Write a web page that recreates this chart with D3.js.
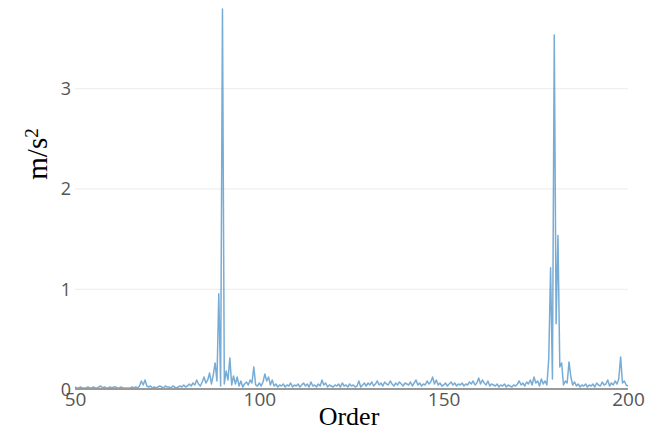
<!doctype html>
<html lang="en">
<head>
<meta charset="UTF-8">
<title>Order spectrum</title>
<style>
  body { margin: 0; background: #fff; }
  svg { display: block; }
</style>
</head>
<body>
<script src="https://cdn.jsdelivr.net/npm/d3@7"></script>
<script>
// orders from 50 to 200 in half-order steps
var orderStart = 50, orderStep = 0.5;

// acceleration amplitude (m/s^2), one row = 10 orders
var accel = [
  0.02,0.01,0.01,0.02,0.01,0.01,0.01,0.02,0.01,0.01, 0.02,0.01,0.01,0.02,0.03,0.01,0.02,0.01,0.01,0.02, // 50
  0.01,0.02,0.02,0.01,0.01,0.02,0.01,0.01,0.01,0.01, 0.01,0.02,0.01,0.02,0.01,0.03,0.08,0.04,0.09,0.03, // 60
  0.02,0.03,0.01,0.02,0.01,0.02,0.03,0.02,0.01,0.03, 0.02,0.02,0.01,0.03,0.02,0.01,0.02,0.03,0.02,0.04, // 70
  0.02,0.03,0.05,0.03,0.06,0.04,0.09,0.05,0.03,0.07, 0.12,0.06,0.09,0.16,0.05,0.14,0.26,0.08,0.95,0.03, // 80
  3.79,0.05,0.18,0.09,0.31,0.04,0.13,0.05,0.12,0.03, 0.08,0.02,0.05,0.07,0.04,0.09,0.06,0.22,0.04,0.03, // 90
  0.06,0.03,0.07,0.15,0.08,0.12,0.04,0.09,0.03,0.05, 0.02,0.04,0.03,0.05,0.02,0.04,0.03,0.06,0.02,0.04, // 100
  0.03,0.05,0.02,0.04,0.06,0.03,0.05,0.02,0.07,0.03, 0.04,0.02,0.05,0.03,0.09,0.04,0.06,0.02,0.04,0.03, // 110
  0.02,0.04,0.03,0.05,0.02,0.06,0.03,0.04,0.02,0.05, 0.03,0.04,0.02,0.03,0.08,0.02,0.04,0.06,0.03,0.06, // 120
  0.04,0.07,0.03,0.05,0.08,0.04,0.06,0.03,0.07,0.05, 0.04,0.08,0.05,0.03,0.06,0.04,0.07,0.05,0.03,0.06, // 130
  0.05,0.04,0.07,0.03,0.06,0.09,0.04,0.06,0.03,0.05, 0.04,0.08,0.05,0.07,0.12,0.05,0.09,0.04,0.06,0.03, // 140
  0.04,0.06,0.03,0.05,0.07,0.04,0.06,0.03,0.05,0.04, 0.06,0.03,0.05,0.04,0.07,0.05,0.08,0.04,0.06,0.11, // 150
  0.05,0.09,0.06,0.04,0.08,0.03,0.05,0.04,0.03,0.05, 0.02,0.04,0.03,0.05,0.02,0.04,0.03,0.02,0.04,0.03, // 160
  0.05,0.08,0.04,0.06,0.03,0.07,0.05,0.09,0.04,0.12, 0.06,0.08,0.03,0.10,0.05,0.08,0.04,0.30,1.21,0.10, // 170
  3.53,0.65,1.53,0.22,0.26,0.04,0.08,0.06,0.27,0.12, 0.04,0.07,0.03,0.05,0.02,0.04,0.03,0.05,0.02,0.04, // 180
  0.03,0.05,0.02,0.06,0.04,0.03,0.07,0.04,0.05,0.09, 0.03,0.06,0.04,0.08,0.05,0.10,0.32,0.06,0.08,0.04, // 190
  0.03                                                                                                 // 200
];

var xTicks = [50, 100, 150, 200];
var yTicks = [0, 1, 2, 3];
var xTitle = "Order";

var W = 657, H = 431;
var padL = 75, padR = 628, padT = 8, padB = 389;

var points = accel.map(function(v, i) { return { x: orderStart + i * orderStep, y: v }; });

var svg = d3.select("body").append("svg").attr("width", W).attr("height", H);

var x = d3.scaleLinear().domain([50, 200]).range([padL, padR]);
var y = d3.scaleLinear().domain([0, 3.8]).range([padB, padT]);

// horizontal grid
var yAxis = d3.axisLeft(y).tickValues(yTicks).tickSize(-(padR - padL)).tickPadding(4).tickFormat(d3.format("d"));
var gy = svg.append("g").attr("transform", "translate(" + padL + ",0)").call(yAxis);
gy.select(".domain").remove();
gy.selectAll(".tick line").attr("stroke", "#ebebeb").attr("stroke-width", 1)
  .filter(function(d) { return d === 0; }).remove();
gy.selectAll(".tick text").attr("fill", "#555").style("font-family", "'Open Sans', sans-serif").style("font-size", "18px").attr("dy", "0.35em");

// data line
var line = d3.line().x(function(d) { return x(d.x); }).y(function(d) { return y(d.y); });
svg.append("path").datum(points)
  .attr("d", line)
  .attr("fill", "none")
  .attr("stroke", "#2e7fc0")
  .attr("stroke-opacity", 0.65)
  .attr("stroke-width", 1.5)
  .attr("stroke-linejoin", "round");

// zero line
svg.append("line")
  .attr("x1", padL).attr("x2", padR)
  .attr("y1", y(0)).attr("y2", y(0))
  .attr("stroke", "#9a9a9a").attr("stroke-width", 2);

var xAxis = d3.axisBottom(x).tickValues(xTicks).tickSize(0).tickPadding(3);
var gx = svg.append("g").attr("transform", "translate(0," + padB + ")").call(xAxis);
gx.select(".domain").remove();
gx.selectAll(".tick text").attr("fill", "#555").style("font-family", "'Open Sans', sans-serif").style("font-size", "19px");

// axis titles
svg.append("text")
  .attr("x", 349).attr("y", 425)
  .attr("text-anchor", "middle")
  .style("font-family", "'Liberation Serif', 'Times New Roman', serif")
  .style("font-size", "26px")
  .text(xTitle);

var yt = svg.append("text")
  .attr("transform", "translate(47,154) rotate(-90)")
  .attr("text-anchor", "middle")
  .style("font-family", "'Liberation Serif', 'Times New Roman', serif")
  .style("font-size", "29px");
yt.append("tspan").text("m/s");
yt.append("tspan").attr("dy", "-0.45em").style("font-size", "19px").text("2");
</script>
</body>
</html>
